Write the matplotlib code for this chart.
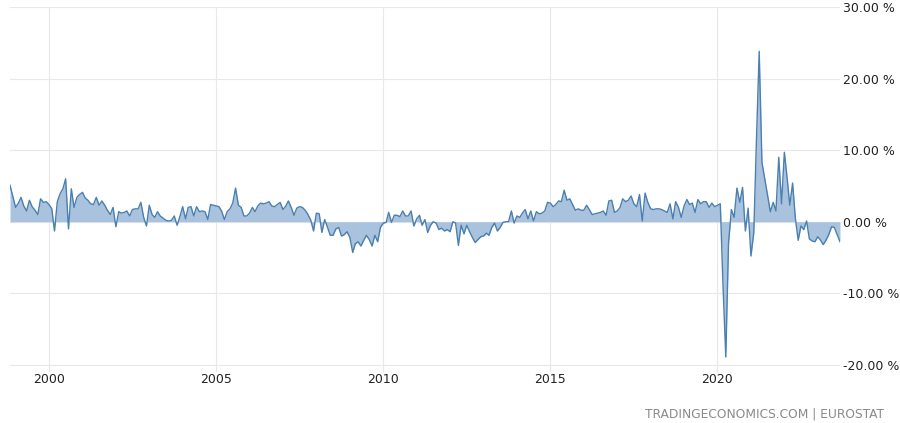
import pandas as pd
import matplotlib
matplotlib.use('Agg')
import matplotlib.pyplot as plt
import matplotlib.dates as mdates
from matplotlib.ticker import FuncFormatter

# monthly % change, Nov 1998 .. Sep 2023
start_month = '1998-11-01'
yoy = [
    5.1, 3.6,                                                          # 1998
    2.0, 2.6, 3.4, 2.2, 1.5, 3.0, 2.1, 1.6, 1.0, 3.2, 2.7, 2.8,        # 1999
    2.4, 1.8, -1.3, 2.8, 3.9, 4.6, 6.0, -1.0, 4.6, 2.0, 3.4, 3.8,      # 2000
    4.1, 3.3, 3.0, 2.5, 2.4, 3.4, 2.3, 2.9, 2.3, 1.6, 1.0, 2.0,        # 2001
    -0.7, 1.4, 1.2, 1.3, 1.5, 0.8, 1.7, 1.8, 1.8, 2.7, 0.6, -0.6,      # 2002
    2.3, 1.0, 0.6, 1.4, 0.8, 0.5, 0.2, 0.1, 0.2, 0.8, -0.5, 0.7,       # 2003
    2.1, 0.4, 2.0, 2.1, 0.8, 2.1, 1.4, 1.5, 1.4, 0.3, 2.4, 2.3,        # 2004
    2.2, 2.1, 1.5, 0.3, 1.4, 1.8, 2.6, 4.7, 2.3, 2.0, 0.8, 0.8,        # 2005
    1.2, 2.0, 1.4, 2.2, 2.6, 2.5, 2.6, 2.8, 2.2, 2.1, 2.4, 2.7,        # 2006
    1.7, 2.2, 2.9, 2.0, 0.9, 1.9, 2.1, 2.0, 1.6, 1.0, 0.2, -1.3,       # 2007
    1.2, 1.1, -1.5, 0.3, -0.8, -1.9, -1.9, -1.0, -0.8, -2.0, -1.8, -1.4,   # 2008
    -2.2, -4.3, -3.1, -2.8, -3.4, -2.6, -1.9, -2.5, -3.4, -1.9, -2.8, -0.8,  # 2009
    -0.2, -0.1, 1.3, -0.1, 0.9, 0.9, 0.7, 1.5, 0.8, 0.8, 1.5, -0.6,    # 2010
    0.4, 0.9, -0.5, 0.3, -1.5, -0.5, 0.0, -0.2, -1.1, -0.9, -1.3, -1.1,    # 2011
    -1.4, 0.0, -0.2, -3.3, -0.5, -1.7, -0.5, -1.4, -2.2, -2.9, -2.5, -2.1,  # 2012
    -2.0, -1.6, -1.9, -0.8, -0.2, -1.3, -0.8, -0.1, 0.0, 0.0, 1.5, -0.2,   # 2013
    0.8, 0.6, 1.2, 1.7, 0.4, 1.5, 0.1, 1.4, 1.1, 1.2, 1.5, 2.7,        # 2014
    2.6, 2.1, 2.4, 2.9, 2.8, 4.4, 3.0, 3.2, 2.4, 1.6, 1.8, 1.6,        # 2015
    1.6, 2.3, 1.7, 1.0, 1.1, 1.2, 1.3, 1.5, 0.9, 2.9, 3.0, 1.3,        # 2016
    1.5, 2.0, 3.2, 2.8, 3.0, 3.6, 2.5, 2.1, 3.8, 0.1, 4.0, 2.7,        # 2017
    1.8, 1.7, 1.8, 1.8, 1.7, 1.5, 1.3, 2.5, 0.4, 2.8, 2.0, 0.6,        # 2018
    2.2, 3.1, 2.4, 2.6, 1.3, 3.1, 2.5, 2.8, 2.8, 2.0, 2.6, 2.1,        # 2019
    2.3, 2.5, -8.7, -18.9, -3.0, 1.7, 0.6, 4.7, 2.7, 4.8, -1.3, 1.9,   # 2020
    -4.8, -1.5, 11.0, 23.8, 8.3, 6.0, 3.8, 1.4, 2.7, 1.5, 9.0, 2.5,    # 2021
    9.7, 6.0, 2.3, 5.4, 0.5, -2.6, -0.6, -1.1, 0.1, -2.4, -2.7, -2.8,  # 2022
    -2.1, -2.6, -3.2, -2.6, -1.8, -0.7, -0.8, -1.8, -2.8,              # 2023
]
y_ticks = [-20, -10, 0, 10, 20, 30]
source_text = 'TRADINGECONOMICS.COM | EUROSTAT'

dates = pd.date_range(start_month, periods=len(yoy), freq='MS')

fig = plt.figure(figsize=(9, 4.23), dpi=100)
ax = fig.add_axes([10/900, 1 - 372/423, 830/900, 365/423])

ax.fill_between(dates, yoy, 0, color='#a9c3de', lw=0)
ax.plot(dates, yoy, color='#4a7fb0', lw=1.0)

ax.set_xlim(dates[0], dates[-1])
ax.set_ylim(-21, 30)
ax.set_yticks(y_ticks)
ax.yaxis.tick_right()
ax.yaxis.set_major_formatter(FuncFormatter(lambda v, p: f'{v:.2f} %'))
ax.xaxis.set_major_locator(mdates.YearLocator(5))
ax.xaxis.set_major_formatter(mdates.DateFormatter('%Y'))
ax.tick_params(axis='both', length=0, labelsize=9, colors='#222222')
ax.tick_params(axis='y', pad=2)
ax.tick_params(axis='x', pad=1)

ax.grid(True, color='#e8e8e8', lw=0.8)
ax.set_axisbelow(True)
for s in ax.spines.values():
    s.set_visible(False)

fig.text(884/900, 1 - 414/423, source_text, ha='right', va='center',
         fontsize=8.8, color='#8a8a8a', family='Liberation Sans Narrow')

fig.savefig('out.png', dpi=100)
